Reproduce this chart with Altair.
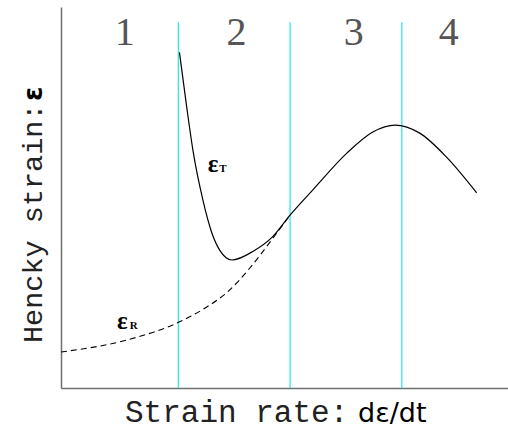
import altair as alt
import pandas as pd

# Total strain curve eps_T (solid): strain rate vs Hencky strain, arbitrary units
rate_t = [1.06, 1.125, 1.18, 1.27, 1.35, 1.42, 1.53, 1.72, 1.89, 2.05,
          2.26, 2.56, 2.79, 2.99, 3.21, 3.45, 3.72]
strain_t = [8.81, 7.37, 6.25, 4.93, 4.07, 3.62, 3.36, 3.59, 3.96, 4.54,
            5.22, 6.17, 6.72, 6.90, 6.69, 6.06, 5.12]

# Recoverable strain curve eps_R (dashed), joins eps_T at the 2/3 boundary
rate_r = [0.0, 0.59, 1.056, 1.29, 1.49, 1.69, 1.87, 2.05]
strain_r = [0.945, 1.26, 1.73, 2.10, 2.52, 3.15, 3.83, 4.54]

# Region boundaries and region numbers
boundaries = [1.05, 2.05, 3.05]
boundary_top = 9.6
region_labels = ["1", "2", "3", "4"]
region_x = [0.57, 1.57, 2.62, 3.47]
region_y = 9.0

# Curve labels (main glyph + subscript)
curve_labels = ["ε", "ε"]
curve_label_x = [1.36, 0.55]
curve_label_y = [5.88, 1.76]
curve_subs = ["T", "R"]
curve_sub_x = [1.45, 0.65]
curve_sub_y = [5.74, 1.62]

df_t = pd.DataFrame({"rate": rate_t, "strain": strain_t})
df_r = pd.DataFrame({"rate": rate_r, "strain": strain_r})
df_b = pd.DataFrame({"rate": boundaries, "top": [boundary_top] * 3, "bottom": [0] * 3})
df_n = pd.DataFrame({"rate": region_x, "strain": [region_y] * 4, "label": region_labels})
df_l = pd.DataFrame({"rate": curve_label_x, "strain": curve_label_y, "label": curve_labels})
df_s = pd.DataFrame({"rate": curve_sub_x, "strain": curve_sub_y, "label": curve_subs})

xs = alt.Scale(domain=[0, 4], nice=False, zero=False)
ys = alt.Scale(domain=[0, 10], nice=False, zero=False)
x_axis = alt.Axis(labels=False, ticks=False, grid=False, title=None,
                  domainColor="#707070", domainWidth=1.5)
y_axis = alt.Axis(labels=False, ticks=False, grid=False, title=None,
                  domainColor="#707070", domainWidth=1.5)

X = alt.X("rate:Q", scale=xs, axis=x_axis)
Y = alt.Y("strain:Q", scale=ys, axis=y_axis)

rules = alt.Chart(df_b).mark_rule(color="#22e5f0", strokeWidth=1.2).encode(
    x=alt.X("rate:Q", scale=xs, axis=x_axis),
    y=alt.Y("top:Q", scale=ys, axis=y_axis),
    y2="bottom:Q",
)

line_t = alt.Chart(df_t).mark_line(color="black", strokeWidth=1.2,
                                   interpolate="monotone").encode(x=X, y=Y)
line_r = alt.Chart(df_r).mark_line(color="black", strokeWidth=1.1,
                                   strokeDash=[6, 4],
                                   interpolate="monotone").encode(x=X, y=Y)

numbers = alt.Chart(df_n).mark_text(font="Liberation Serif", fontSize=40,
                                    color="#555555", baseline="alphabetic").encode(
    x=X, y=Y, text="label:N")

eps = alt.Chart(df_l).mark_text(font="Liberation Serif", fontSize=25,
                                fontWeight="bold", color="black",
                                baseline="middle").encode(x=X, y=Y, text="label:N")
subs = alt.Chart(df_s).mark_text(font="Liberation Serif", fontSize=11,
                                 fontWeight="bold", color="black",
                                 baseline="middle").encode(x=X, y=Y, text="label:N")

# Axis captions drawn as text so the two font styles can be mixed
cap_x1 = alt.Chart(pd.DataFrame({"t": ["Strain rate:"]})).mark_text(
    font="Liberation Mono", fontSize=31, align="left", baseline="alphabetic",
    color="#222222").encode(x=alt.value(64), y=alt.value(415), text="t:N")
cap_x2 = alt.Chart(pd.DataFrame({"t": ["dε/dt"]})).mark_text(
    font="DejaVu Sans", fontSize=27, align="left", baseline="alphabetic",
    color="black").encode(x=alt.value(297), y=alt.value(415), text="t:N")
cap_y1 = alt.Chart(pd.DataFrame({"t": ["Hencky strain:"]})).mark_text(
    font="Liberation Mono", fontSize=28.5, align="left", baseline="alphabetic",
    angle=270, color="#222222").encode(x=alt.value(-19), y=alt.value(336), text="t:N")
cap_y2 = alt.Chart(pd.DataFrame({"t": ["ε"]})).mark_text(
    font="DejaVu Sans", fontSize=26, fontWeight="bold", align="left",
    baseline="alphabetic", angle=270, color="black").encode(
    x=alt.value(-19), y=alt.value(94), text="t:N")

chart = alt.layer(rules, line_r, line_t, numbers, eps, subs,
                  cap_x1, cap_x2, cap_y1, cap_y2).properties(
    width=447, height=381,
    autosize=alt.AutoSizeParams(type="none"),
    padding={"left": 61, "top": 7, "right": 0, "bottom": 42},
).configure_view(strokeWidth=0)

chart.save("out.html", embed_options={"renderer": "svg", "actions": False})
